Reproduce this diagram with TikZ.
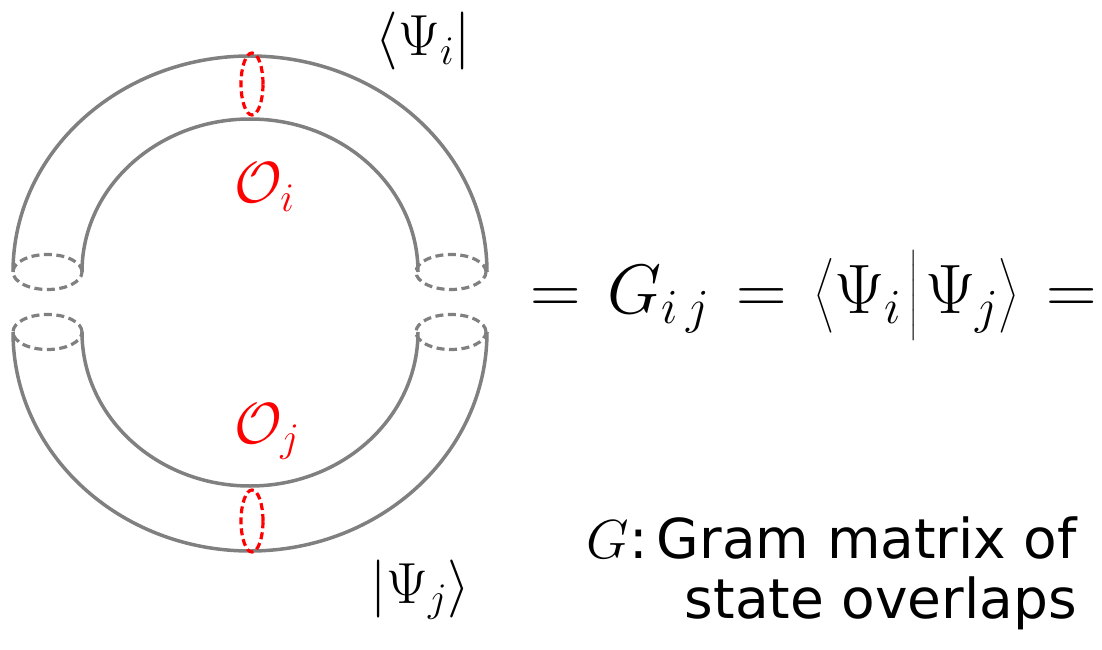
\RequirePackage{fix-cm}
\documentclass[tikz,border=0pt]{standalone}
\usepackage{amsmath}
\usepackage{fontspec}
\newfontfamily\labelsans{DejaVu Sans}
\begin{document}
\begin{tikzpicture}[x=1pt,y=1pt,
  tube/.style={draw={rgb,255:red,128;green,128;blue,128}, line width=3.5pt},
  rim/.style={draw={rgb,255:red,128;green,128;blue,128}, line width=3.2pt, dash pattern=on 8pt off 4.5pt},
  cut/.style={draw=red, line width=3.2pt, dash pattern=on 7pt off 4pt},
  eqtext/.style={inner sep=0pt, font=\fontsize{70}{76}\selectfont},
  ketlabel/.style={inner sep=0pt, font=\fontsize{58}{64}\selectfont},
  oplabel/.style={inner sep=0pt, text=red, font=\fontsize{58}{64}\selectfont},
  note/.style={inner sep=0pt, font=\fontsize{55}{60}\selectfont\labelsans}]
\useasboundingbox (0,0) rectangle (1102,649);

% upper half-tube (bra)
\draw[tube] (13,377) arc[start angle=180, end angle=0, x radius=237, y radius=216];
\draw[tube] (82,377) arc[start angle=180, end angle=0, x radius=168, y radius=153];
% lower half-tube (ket)
\draw[tube] (13,317) arc[start angle=180, end angle=360, x radius=237, y radius=219];
\draw[tube] (82,317) arc[start angle=180, end angle=360, x radius=168, y radius=154];

% open ends of the tubes
\draw[rim] (47.5,377) ellipse[x radius=34.5, y radius=17.5];
\draw[rim] (451,377) ellipse[x radius=35, y radius=17.5];
\draw[rim] (47.5,317) ellipse[x radius=34.5, y radius=17.5];
\draw[rim] (451,317) ellipse[x radius=35, y radius=17.5];

% operator insertions
\draw[cut] (252,565) ellipse[x radius=11, y radius=31];
\draw[cut] (252,128) ellipse[x radius=11, y radius=31];

\node[oplabel, anchor=base west] (Oi) at (234,446) {$\mathcal{O}_i$};
\node[oplabel, anchor=base west] (Oj) at (234,206) {$\mathcal{O}_j$};

\node[ketlabel, anchor=base] (bra) at (423,593) {$\langle\Psi_i|$};
\node[ketlabel, anchor=base] (ket) at (420,46) {$|\Psi_j\rangle$};

\node[eqtext, anchor=base west] (eq) at (530,336)
  {$\thickmuskip=7mu =G_{i\,j}=\left\langle\rule[-0.36em]{0pt}{1.12em}\Psi_i\mkern2mu\middle|\mkern2mu\Psi_j\right\rangle=$};

\node[note, anchor=base east] (gram) at (1077,91) {$G$:\,Gram matrix of};
\node[note, anchor=base east] (state) at (1077,31) {state overlaps};
\end{tikzpicture}
\end{document}
